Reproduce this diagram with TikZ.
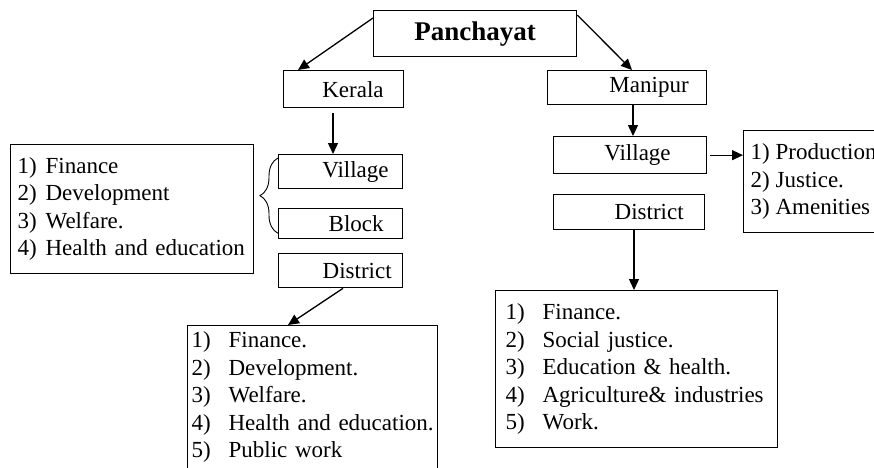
\documentclass[tikz,border=0pt]{standalone}
\usepackage{fontspec}
\setmainfont{Liberation Serif}
\usetikzlibrary{positioning,arrows.meta,decorations.pathreplacing}
\tikzset{
  flowarrow/.style={-{Triangle[length=11pt,width=10pt]}, line width=1.3pt},
  plainbox/.style={draw, line width=1.3pt, anchor=north west, inner sep=0pt, align=right},
  listbox/.style={draw, line width=1.3pt, anchor=north west, inner ysep=0pt, align=left},
  bracket/.style={decorate, decoration={brace, amplitude=18pt}, line width=0.9pt}
}
\newcommand{\numitem}[3][35pt]{\makebox[#1][l]{#2}\mbox{#3}}

\begin{document}
\begin{tikzpicture}[x=1pt, y=-1pt, every node/.style={font=\fontsize{23}{27.5}\selectfont}]
  \clip (0,0) rectangle (874,467);
  % top
  \node[plainbox, align=center, minimum width=203pt, minimum height=46pt, font=\fontsize{27}{30}\selectfont\bfseries] (panchayat) at (373,10) {Panchayat};
  % Kerala side
  \node[plainbox, minimum width=120pt, minimum height=37pt, text width=80pt] (kerala) at (283,70) {Kerala};
  \node[plainbox, minimum width=124pt, minimum height=34pt, text width=96pt] (kvillage) at (278,154) {Village};
  \node[plainbox, minimum width=124pt, minimum height=30pt, text width=86pt] (kblock) at (278,208) {Block};
  \node[plainbox, minimum width=124pt, minimum height=34pt, text width=102pt] (kdistrict) at (278,253) {District};
  \node[listbox, minimum width=243pt, minimum height=129pt, text width=229pt, inner xsep=7pt] (klist) at (10,144)
    {\numitem[28pt]{1)}{Finance}\\ \numitem[28pt]{2)}{Development}\\ \numitem[28pt]{3)}{Welfare.}\\ \numitem[28pt]{4)}{Health and education}};
  \node[listbox, minimum width=250pt, minimum height=143pt, text width=242pt, inner xsep=4pt] (kdlist) at (187,325)
    {\numitem[37pt]{1)}{Finance.}\\ \numitem[37pt]{2)}{Development.}\\ \numitem[37pt]{3)}{Welfare.}\\ \numitem[37pt]{4)}{Health and education.}\\ \numitem[37pt]{5)}{Public work}};
  % Manipur side
  \node[plainbox, minimum width=159pt, minimum height=34pt, text width=123pt] (manipur) at (547,70) {Manipur};
  \node[plainbox, minimum width=153pt, minimum height=37pt, text width=81pt] (mvillage) at (553,136) {Village};
  \node[plainbox, minimum width=151pt, minimum height=35pt, text width=109pt] (mdistrict) at (553,194) {District};
  \node[listbox, minimum width=160pt, minimum height=102pt, text width=146pt, inner xsep=7pt] (mvlist) at (743,130)
    {\numitem[25pt]{1)}{Production}\\ \numitem[25pt]{2)}{Justice.}\\ \numitem[25pt]{3)}{Amenities}};
  \node[listbox, minimum width=282pt, minimum height=157pt, text width=262pt, inner xsep=10pt] (mdlist) at (495,290)
    {\numitem[37pt]{1)}{Finance.}\\ \numitem[37pt]{2)}{Social justice.}\\ \numitem[37pt]{3)}{Education \& health.}\\ \numitem[37pt]{4)}{Agriculture\& industries}\\ \numitem[37pt]{5)}{Work.}};
  % connectors
  \draw[flowarrow] ([yshift=-8pt]panchayat.north west) -- ([xshift=15pt]kerala.north west);
  \draw[flowarrow] ([yshift=-5pt]panchayat.north east) -- ([xshift=85pt]manipur.north west);
  \draw[flowarrow] ([xshift=50pt,yshift=-5pt]kerala.south west) -- ([xshift=55pt]kvillage.north west);
  \draw[flowarrow] ([xshift=65pt]kdistrict.south west) -- ([xshift=101pt]kdlist.north west);
  \draw[flowarrow] ([xshift=86pt]manipur.south west) -- ([xshift=80pt]mvillage.north west);
  \draw[flowarrow] ([xshift=3pt]mvillage.east) -- (mvillage.east -| mvlist.west);
  \draw[flowarrow] ([xshift=81pt]mdistrict.south west) -- ([xshift=139pt]mdlist.north west);
  \draw[bracket] ([yshift=6pt]kblock.south west) -- ([yshift=-4pt]kvillage.north west);
\end{tikzpicture}
\end{document}
